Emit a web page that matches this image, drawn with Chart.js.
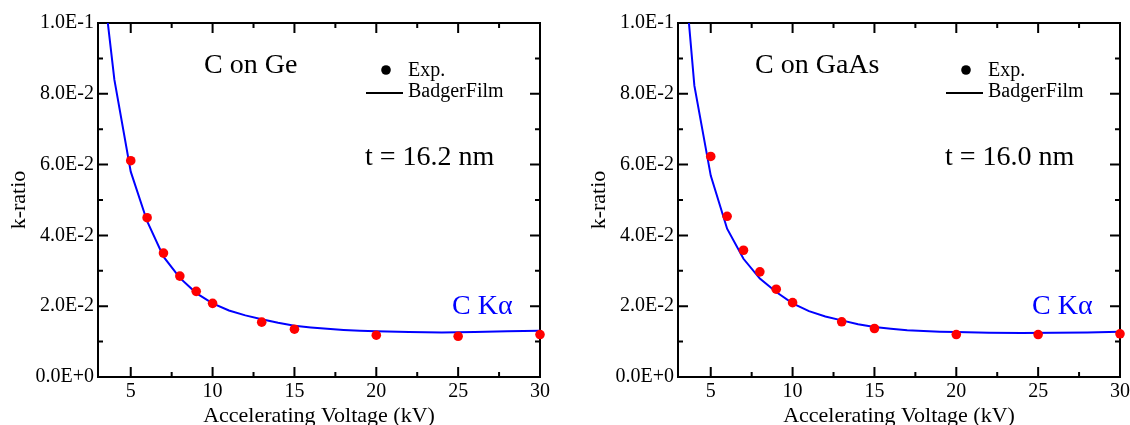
<!DOCTYPE html>
<html>
<head>
<meta charset="utf-8">
<script src="https://cdn.jsdelivr.net/npm/chart.js@4"></script>
<style>
  html, body { margin: 0; padding: 0; background: #fff; overflow: hidden; width: 1130px; height: 425px; }
  canvas { position: absolute; top: 0; }
  #chartGe { left: 0; }
  #chartGaAs { left: 580px; }
</style>
</head>
<body>
<canvas id="chartGe" width="560" height="445"></canvas>
<canvas id="chartGaAs" width="560" height="445"></canvas>
<script>
// measured k-ratios, C Kα
const expVoltages = [5, 6, 7, 8, 9, 10, 13, 15, 20, 25, 30];
const geExp   = [0.0611, 0.0450, 0.0350, 0.0285, 0.0242, 0.0208, 0.0155, 0.0135, 0.0118, 0.0115, 0.0120];
const gaasExp = [0.0623, 0.0454, 0.0358, 0.0297, 0.0248, 0.0210, 0.0156, 0.0137, 0.0120, 0.0120, 0.0122];

// BadgerFilm curves
const fitVoltages = [3.5, 4, 5, 6, 7, 8, 9, 10, 11, 12, 13, 14, 15, 16, 17, 18, 19, 20, 22, 24, 26, 28, 30];
const geFit   = [0.104, 0.084, 0.058, 0.044, 0.034, 0.028, 0.0237, 0.0208, 0.0188, 0.0174, 0.0163, 0.0153, 0.0145,
                 0.0140, 0.0136, 0.0133, 0.0131, 0.0129, 0.0127, 0.0126, 0.0127, 0.0129, 0.0131];
const gaasFit = [0.109, 0.0823, 0.0569, 0.0419, 0.0334, 0.0278, 0.0240, 0.0208, 0.0186, 0.0171, 0.0160, 0.0149, 0.0141,
                 0.0136, 0.0132, 0.0130, 0.0128, 0.0127, 0.0125, 0.0124, 0.0125, 0.0126, 0.0128];

const xTickValues = [5, 10, 15, 20, 25, 30];
const xMinorTicks = [7.5, 12.5, 17.5, 22.5, 27.5];
const yTickValues = [0, 0.02, 0.04, 0.06, 0.08, 0.1];
const yMinorTicks = [0.01, 0.03, 0.05, 0.07, 0.09];

const FONT = '"Liberation Serif", "Times New Roman", serif';

// box with inward ticks on all four sides
const framePlugin = {
    id: 'frame',
    beforeDatasetsDraw(chart) {
        const { ctx, chartArea: a, scales } = chart;
        ctx.save();
        ctx.strokeStyle = '#000';
        ctx.lineWidth = 2;
        ctx.strokeRect(a.left, a.top, a.right - a.left, a.bottom - a.top);
        ctx.beginPath();
        const xTick = (v, len) => {
            const px = scales.x.getPixelForValue(v);
            ctx.moveTo(px, a.bottom); ctx.lineTo(px, a.bottom - len);
            ctx.moveTo(px, a.top); ctx.lineTo(px, a.top + len);
        };
        const yTick = (v, len) => {
            const py = scales.y.getPixelForValue(v);
            ctx.moveTo(a.left, py); ctx.lineTo(a.left + len, py);
            ctx.moveTo(a.right, py); ctx.lineTo(a.right - len, py);
        };
        xTickValues.forEach(v => xTick(v, 10));
        xMinorTicks.forEach(v => xTick(v, 5));
        yTickValues.forEach(v => yTick(v, 10));
        yMinorTicks.forEach(v => yTick(v, 5));
        ctx.stroke();
        ctx.restore();
    }
};

// texts and the little legend
const notesPlugin = {
    id: 'notes',
    afterDraw(chart, args, opts) {
        const { ctx, chartArea: a } = chart;
        const L = a.left;
        ctx.save();
        ctx.textAlign = 'left';
        ctx.textBaseline = 'alphabetic';
        ctx.fillStyle = '#000';
        ctx.font = '28px ' + FONT;
        ctx.fillText(opts.title, L + opts.titleX, 73);
        ctx.fillText(opts.thickness, L + 267, 165);

        ctx.fillStyle = '#0000ff';
        ctx.fillText('C K\u03b1', L + 354, 314);

        ctx.fillStyle = '#000';
        ctx.beginPath();
        ctx.arc(L + 288, 70, 4.8, 0, Math.PI * 2);
        ctx.fill();
        ctx.strokeStyle = '#000';
        ctx.lineWidth = 2;
        ctx.beginPath();
        ctx.moveTo(L + 268, 93);
        ctx.lineTo(L + 305, 93);
        ctx.stroke();
        ctx.font = '20px ' + FONT;
        ctx.fillText('Exp.', L + 310, 76);
        ctx.fillText('BadgerFilm', L + 310, 97);
        ctx.restore();
    }
};

function makeChart(canvasId, expVals, fitVals, notes) {
    const ctx = document.getElementById(canvasId);
    return new Chart(ctx, {
        type: 'scatter',
        data: {
            datasets: [{
                label: 'BadgerFilm',
                data: fitVoltages.map((v, i) => ({ x: v, y: fitVals[i] })),
                showLine: true,
                borderColor: '#0000ff',
                borderWidth: 2,
                pointRadius: 0,
                tension: 0,
                order: 2
            }, {
                label: 'Exp.',
                data: expVoltages.map((v, i) => ({ x: v, y: expVals[i] })),
                backgroundColor: '#ff0000',
                borderWidth: 0,
                pointRadius: 4.8,
                clip: false,
                order: 1
            }]
        },
        options: {
            responsive: false,
            animation: false,
            events: [],
            layout: { padding: { top: 23, right: 20, bottom: 0, left: 0 } },
            scales: {
                x: {
                    type: 'linear',
                    min: 3,
                    max: 30,
                    afterBuildTicks: s => { s.ticks = xTickValues.map(v => ({ value: v })); },
                    afterFit: s => { s.height = 68; },
                    grid: { display: false, drawTicks: false },
                    border: { display: false },
                    ticks: { color: '#000', font: { family: FONT, size: 20 }, padding: 3, maxRotation: 0, autoSkip: false },
                    title: {
                        display: true,
                        text: 'Accelerating Voltage (kV)',
                        color: '#000',
                        font: { family: FONT, size: 22 },
                        padding: { top: 0, bottom: 16 }
                    }
                },
                y: {
                    type: 'linear',
                    min: 0,
                    max: 0.1,
                    afterBuildTicks: s => { s.ticks = yTickValues.map(v => ({ value: v })); },
                    afterFit: s => { s.width = 98; },
                    grid: { display: false, drawTicks: false },
                    border: { display: false },
                    ticks: {
                        color: '#000',
                        font: { family: FONT, size: 20 },
                        padding: 4,
                        callback: v => Number(v).toExponential(1).toUpperCase()
                    },
                    title: {
                        display: true,
                        text: 'k-ratio',
                        color: '#000',
                        font: { family: FONT, size: 22 },
                        padding: { top: 6, bottom: 0 }
                    }
                }
            },
            plugins: {
                legend: { display: false },
                tooltip: { enabled: false },
                notes: notes
            }
        },
        plugins: [framePlugin, notesPlugin]
    });
}

makeChart('chartGe', geExp, geFit, { title: 'C on Ge', titleX: 106, thickness: 't = 16.2 nm' });
makeChart('chartGaAs', gaasExp, gaasFit, { title: 'C on GaAs', titleX: 77, thickness: 't = 16.0 nm' });
</script>
</body>
</html>
